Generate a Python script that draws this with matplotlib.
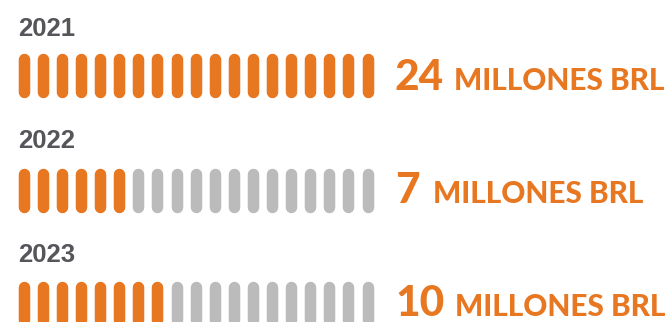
import matplotlib
matplotlib.use("Agg")
from matplotlib import pyplot as plt

years = ['2021', '2022', '2023']
amounts = [24, 7, 10]
filled_pills = [19, 6, 8]
total_pills = 19
unit_label = 'MILLONES BRL'

ORANGE = '#E87722'
GREY = '#BBBBBB'
DARK = '#55555A'

W, H, DPI = 669, 322, 100
fig = plt.figure(figsize=(W / DPI, H / DPI), dpi=DPI)
ax = fig.add_axes([0, 0, 1, 1])
ax.set_xlim(0, W)
ax.set_ylim(H, 0)
ax.axis('off')

pill_w = 11.5
pill_h = 45
pitch = 19.1
x0 = 18 + pill_w / 2
row_tops = [53, 168, 281]
label_base = [36, 148, 262]
value_base = [90, 203, 316]
unit_x = [454, 433, 455]
lw = pill_w * 72 / DPI

plt.rcParams['font.family'] = ['Liberation Sans', 'DejaVu Sans']
heavy = ['Lato', 'Liberation Sans', 'DejaVu Sans']

for r, year in enumerate(years):
    top = row_tops[r]
    for i in range(total_pills):
        cx = x0 + i * pitch
        color = ORANGE if i < filled_pills[r] else GREY
        ax.plot([cx, cx], [top + pill_w / 2, top + pill_h - pill_w / 2],
                color=color, lw=lw, solid_capstyle='round')
    ax.text(18, label_base[r], year, fontsize=18.5, fontweight='bold',
            color=DARK, va='baseline', ha='left')
    ax.text(395, value_base[r], str(amounts[r]), fontsize=30.5, fontweight='black',
            family=heavy, color=ORANGE, va='baseline', ha='left')
    ax.text(unit_x[r], value_base[r], unit_label, fontsize=21.4, fontweight='black',
            family=heavy, color=ORANGE, va='baseline', ha='left')

fig.savefig('out.png', dpi=DPI)
